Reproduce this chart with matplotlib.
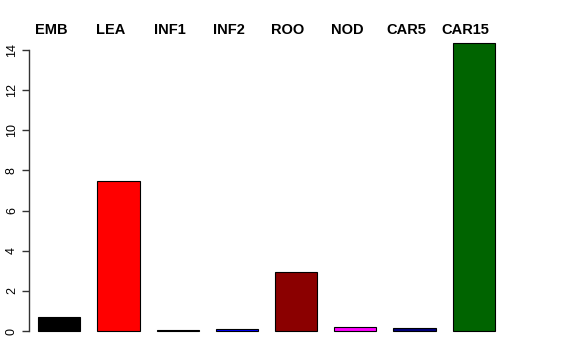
#!/usr/bin/env python

# Bar chart of eight samples, R barplot look: names on top, bare y axis on the left.

import numpy
import matplotlib
matplotlib.use('Agg')
import matplotlib.pyplot as plt
import matplotlib.transforms as mtransforms

names = ['EMB', 'LEA', 'INF1', 'INF2', 'ROO', 'NOD', 'CAR5', 'CAR15']
values = [0.71, 7.47, 0.06, 0.11, 2.92, 0.20, 0.16, 14.35]
colours = ['black', 'red', '#0a1a0a', 'blue', '#8B0000', 'magenta', 'navy', '#006400']
yticks = [0, 2, 4, 6, 8, 10, 12, 14]

W, H = 576, 360
fig = plt.figure(figsize=(W/100, H/100), dpi=100, facecolor='white')
plt.rcParams['font.family'] = ['Liberation Sans', 'DejaVu Sans']

# axes placed in pixel terms: left edge at 29px, top 31px, bottom 342px
ax = fig.add_axes([29/W, 1-342/H, (540-29)/W, (342-31)/H])
ax.set_xlim(-0.512, 8.12)
ax.set_ylim(-0.548, 14.95)

x = numpy.arange(len(names))
ax.bar(x, values, width=0.71, color=colours, edgecolor='black', linewidth=0.8)

for s in ['top', 'right', 'bottom']:
    ax.spines[s].set_visible(False)
ax.spines['left'].set_bounds(0, 14)
ax.spines['left'].set_linewidth(1.0)
ax.spines['left'].set_color('#333333')
ax.set_xticks([])
ax.set_yticks(yticks)
ax.set_yticklabels([str(t) for t in yticks], rotation=90, va='center', fontsize=9)
ax.tick_params(axis='y', length=5, width=1.0, color='#333333', pad=3)

# names sit a little left of the bar centres, like the original
trans = mtransforms.blended_transform_factory(ax.transData, fig.transFigure)
for xi, name in zip(x, names):
    ax.text(xi - 0.135, 1 - 34/H, name, transform=trans,
            ha='center', va='baseline', fontsize=10.5, fontweight='bold')

fig.savefig('out.png', dpi=100)
